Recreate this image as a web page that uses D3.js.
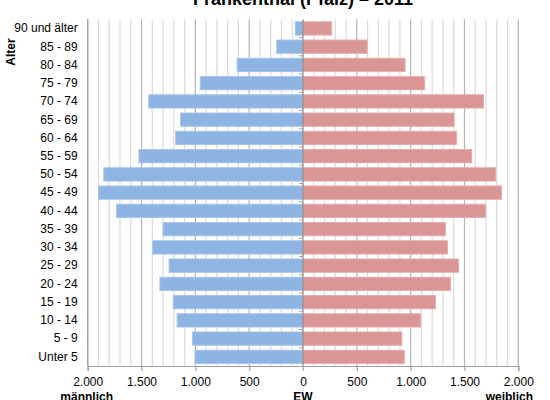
<!DOCTYPE html>
<html>
<head>
<meta charset="utf-8">
<script src="https://cdn.jsdelivr.net/npm/d3@7"></script>
<style>
  html, body { margin: 0; padding: 0; background: #fff; }
  svg { display: block; font-family: "Liberation Sans", Arial, sans-serif; }
</style>
</head>
<body>
<svg id="chart" width="550" height="400"></svg>
<script>
const title = "Frankenthal (Pfalz) – 2011";
const ageGroups = ["90 und älter","85 - 89","80 - 84","75 - 79","70 - 74","65 - 69","60 - 64","55 - 59","50 - 54","45 - 49","40 - 44","35 - 39","30 - 34","25 - 29","20 - 24","15 - 19","10 - 14","5 - 9","Unter 5"];
const male   = [72, 244, 612, 954, 1433, 1137, 1182, 1524, 1850, 1899, 1733, 1300, 1397, 1244, 1329, 1205, 1169, 1026, 1003];
const female = [267, 596, 948, 1130, 1677, 1404, 1427, 1567, 1788, 1844, 1697, 1322, 1342, 1446, 1371, 1231, 1094, 918, 941];
const tickValues = [-2000, -1500, -1000, -500, 0, 500, 1000, 1500, 2000];
const tickLabels = ["2.000", "1.500", "1.000", "500", "0", "500", "1.000", "1.500", "2.000"];
const minorTicks = d3.range(-2000, 2001, 100);

(function () {
const svg = d3.select("#chart");
const pLeft = 87.7, pRight = 518.3, pTop = 19.3, pBottom = 366;

const x = d3.scaleLinear().domain([-2000, 2000]).range([pLeft, pRight]);
const y = d3.scaleBand().domain(ageGroups).range([pTop, pBottom]).paddingInner(0.27).paddingOuter(0.135);

// minor gridlines
svg.append("g").selectAll("line").data(minorTicks.filter(v => v % 500 !== 0)).join("line")
  .attr("x1", d => x(d)).attr("x2", d => x(d))
  .attr("y1", pTop).attr("y2", pBottom)
  .attr("stroke", "#dadada").attr("stroke-width", 1.2);
// major gridlines
svg.append("g").selectAll("line").data(tickValues.filter(v => v !== 0)).join("line")
  .attr("x1", d => x(d)).attr("x2", d => x(d))
  .attr("y1", pTop).attr("y2", pBottom)
  .attr("stroke", "#b4b4b4").attr("stroke-width", 1.2);

// bars
svg.append("g").selectAll("rect").data(ageGroups).join("rect")
  .attr("x", (d, i) => x(-male[i]))
  .attr("width", (d, i) => x(0) - x(-male[i]))
  .attr("y", d => y(d)).attr("height", y.bandwidth())
  .attr("fill", "#8db4e2").attr("stroke", "#a8c5ea").attr("stroke-width", 1);
svg.append("g").selectAll("rect").data(ageGroups).join("rect")
  .attr("x", x(0))
  .attr("width", (d, i) => x(female[i]) - x(0))
  .attr("y", d => y(d)).attr("height", y.bandwidth())
  .attr("fill", "#da9694").attr("stroke", "#e4afae").attr("stroke-width", 1);

// center axis line with small ticks at band boundaries
const bounds = ageGroups.map(d => y(d) - y.step() * y.paddingInner() / 2).slice(1);
svg.append("g").selectAll("line").data(bounds).join("line")
  .attr("x1", x(0) - 4).attr("x2", x(0))
  .attr("y1", d => d).attr("y2", d => d)
  .attr("stroke", "#a0a0a0").attr("stroke-width", 1);
svg.append("line").attr("x1", x(0)).attr("x2", x(0)).attr("y1", pTop).attr("y2", pBottom)
  .attr("stroke", "#8a8a8a").attr("stroke-width", 1.2);

// left axis line
svg.append("line").attr("x1", pLeft).attr("x2", pLeft).attr("y1", pTop).attr("y2", pBottom)
  .attr("stroke", "#a0a0a0").attr("stroke-width", 1.2);

// bottom axis
const xAxis = d3.axisBottom(x).tickValues(tickValues).tickSize(5).tickPadding(6)
  .tickFormat((d, i) => tickLabels[i]);
const gx = svg.append("g").attr("transform", `translate(0,${pBottom})`).call(xAxis);
gx.select(".domain").attr("stroke", "#a0a0a0").attr("stroke-width", 1.2);
gx.selectAll(".tick line").attr("stroke", "#a0a0a0").attr("stroke-width", 1.2);
gx.selectAll(".tick text").attr("font-size", 12).attr("fill", "#000")
  .attr("font-family", "Liberation Sans, Arial, sans-serif");

// left category labels
const yAxis = d3.axisLeft(y).tickSize(0).tickPadding(10);
const gy = svg.append("g").attr("transform", `translate(${pLeft},0)`).call(yAxis);
gy.select(".domain").remove();
gy.selectAll(".tick text").attr("font-size", 12).attr("fill", "#000")
  .attr("font-family", "Liberation Sans, Arial, sans-serif");

// title
svg.append("text").attr("x", x(0)).attr("y", 5).attr("text-anchor", "middle")
  .attr("font-size", 18).attr("font-weight", "bold").text(title);

// axis titles
svg.append("text").attr("transform", "translate(15,52) rotate(-90)").attr("text-anchor", "middle")
  .attr("font-size", 12).attr("font-weight", "bold").text("Alter");
svg.append("text").attr("x", x(-2000) - 1).attr("y", 401).attr("text-anchor", "middle")
  .attr("font-size", 12).attr("font-weight", "bold").text("männlich");
svg.append("text").attr("x", x(0)).attr("y", 401).attr("text-anchor", "middle")
  .attr("font-size", 12).attr("font-weight", "bold").text("EW");
svg.append("text").attr("x", 533).attr("y", 401).attr("text-anchor", "end")
  .attr("font-size", 12).attr("font-weight", "bold").text("weiblich");
})();
</script>
</body>
</html>
